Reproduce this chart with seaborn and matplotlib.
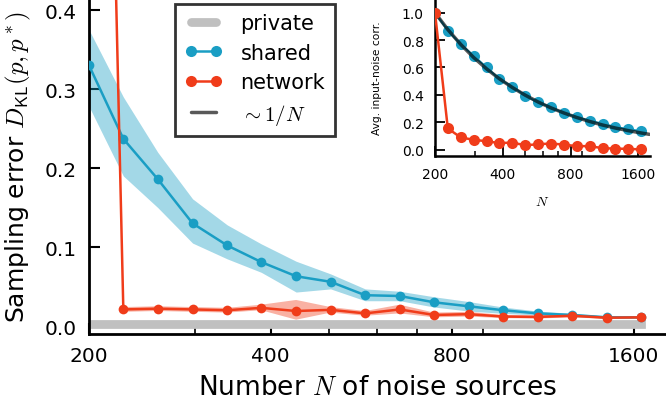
import numpy as np
import pandas as pd
import matplotlib
matplotlib.use("Agg")
import matplotlib.pyplot as plt
import seaborn as sns
from matplotlib.lines import Line2D
from matplotlib.ticker import FixedLocator, NullFormatter

# ---------------- data ----------------
N = [200, 228, 260, 297, 339, 386, 441, 503, 574, 655, 747, 852, 972, 1109, 1265, 1443, 1646]

private = [0.0025, 0.0025, 0.0025, 0.0025, 0.0025, 0.0025, 0.0025, 0.0025, 0.0025,
           0.0025, 0.0025, 0.0025, 0.0025, 0.0025, 0.0025, 0.0025, 0.0025]

shared_mean = [0.330, 0.237, 0.186, 0.130, 0.102, 0.081, 0.063, 0.056, 0.039,
               0.038, 0.030, 0.025, 0.020, 0.016, 0.014, 0.011, 0.011]
shared_lo = [0.278, 0.190, 0.150, 0.105, 0.085, 0.068, 0.043, 0.047, 0.032,
             0.032, 0.024, 0.019, 0.016, 0.014, 0.012, 0.010, 0.010]
shared_hi = [0.375, 0.290, 0.220, 0.161, 0.128, 0.104, 0.082, 0.066, 0.047,
             0.044, 0.037, 0.031, 0.024, 0.019, 0.016, 0.013, 0.012]

network_mean = [1.90, 0.021, 0.022, 0.021, 0.020, 0.023, 0.019, 0.0205, 0.016,
                0.021, 0.014, 0.015, 0.012, 0.0115, 0.013, 0.0105, 0.011]
network_lo = [1.80, 0.018, 0.019, 0.018, 0.017, 0.020, 0.008, 0.017, 0.013,
              0.016, 0.011, 0.012, 0.010, 0.0095, 0.011, 0.009, 0.0095]
network_hi = [2.00, 0.024, 0.025, 0.024, 0.023, 0.027, 0.033, 0.024, 0.019,
              0.027, 0.017, 0.018, 0.014, 0.0135, 0.015, 0.012, 0.0125]

# inset: average input-noise correlation
inset_shared = [1.0, 0.87, 0.77, 0.685, 0.60, 0.515, 0.46, 0.395, 0.345,
                0.31, 0.265, 0.24, 0.21, 0.19, 0.165, 0.15, 0.135]
inset_network = [1.0, 0.155, 0.09, 0.072, 0.062, 0.048, 0.052, 0.032, 0.04,
                 0.045, 0.037, 0.026, 0.026, 0.011, 0.008, 0.006, 0.002]
curve_N = [200, 228, 260, 297, 339, 386, 441, 503, 574, 655, 747, 852, 972,
           1109, 1265, 1443, 1646, 1790]
curve_vals = [1.0, 0.877, 0.769, 0.673, 0.590, 0.518, 0.454, 0.398, 0.348, 0.305,
              0.268, 0.235, 0.206, 0.180, 0.158, 0.139, 0.122, 0.112]

major_ticks = [200, 400, 800, 1600]
minor_ticks = [300, 500, 600, 700, 900]
yticks_main = [0.0, 0.1, 0.2, 0.3, 0.4]
yticks_inset = [0.0, 0.2, 0.4, 0.6, 0.8, 1.0]

# ---------------- style ----------------
sns.set_style("ticks")
plt.rcParams["font.family"] = ["DejaVu Sans"]
plt.rcParams["mathtext.fontset"] = "cm"
for k in ["text.color", "axes.labelcolor", "xtick.color", "ytick.color", "axes.edgecolor"]:
    plt.rcParams[k] = "black"

BLUE = "#1a9ec4"
RED = "#f03c1a"
GRAY = "#c0c0c0"

fig = plt.figure(figsize=(6.66, 4.02), dpi=100)
W, H = 666, 402
ax = fig.add_axes([89 / W, 67 / H, 577 / W, 335 / H])

df = pd.DataFrame({"N": N, "private": private, "shared": shared_mean,
                   "network": network_mean})

sns.lineplot(data=df, x="N", y="private", ax=ax, color=GRAY, linewidth=6.3,
             solid_capstyle="projecting", zorder=1)
ax.fill_between(N, shared_lo, shared_hi, color=BLUE, alpha=0.4, linewidth=0, zorder=2)
ax.fill_between(N, network_lo, network_hi, color=RED, alpha=0.4, linewidth=0, zorder=2)
sns.lineplot(data=df, x="N", y="shared", ax=ax, color=BLUE, linewidth=1.8,
             marker="o", markersize=7, markeredgewidth=0, zorder=3)
sns.lineplot(data=df, x="N", y="network", ax=ax, color=RED, linewidth=1.8,
             marker="o", markersize=7, markeredgewidth=0, zorder=4)

ax.set_xscale("log", base=2)
ax.set_xlim(200, 1810)
ax.set_ylim(-0.0101, 0.414)
ax.xaxis.set_major_locator(FixedLocator(major_ticks))
ax.set_xticklabels([str(t) for t in major_ticks])
ax.xaxis.set_minor_locator(FixedLocator(minor_ticks))
ax.xaxis.set_minor_formatter(NullFormatter())
ax.set_yticks(yticks_main)
ax.set_yticklabels([f"{t:.1f}" for t in yticks_main])
ax.tick_params(axis="both", which="major", direction="in", length=8, width=1.5,
               labelsize=14.5, pad=9, color="black", labelcolor="black")
ax.tick_params(axis="x", which="minor", direction="in", length=4, width=1.2, color="black")
for s in ["top", "right"]:
    ax.spines[s].set_visible(False)
for s in ["left", "bottom"]:
    ax.spines[s].set_linewidth(2)
    ax.spines[s].set_color("black")
ax.set_xlabel(r"Number $N$ of noise sources", fontsize=19, labelpad=6, color="black")
ax.set_ylabel(r"Sampling error $D_{\mathsf{KL}}(p,p^*)$", fontsize=18, labelpad=8,
              color="black")

handles = [
    Line2D([], [], color=GRAY, linewidth=6.3),
    Line2D([], [], color=BLUE, linewidth=1.8, marker="o", markersize=8, markeredgewidth=0),
    Line2D([], [], color=RED, linewidth=1.8, marker="o", markersize=8, markeredgewidth=0),
    Line2D([], [], color="black", alpha=0.65, linewidth=2.5),
]
labels = ["private", "shared", "network", r"$\sim 1/N$"]
leg = ax.legend(handles, labels, loc="upper left", bbox_to_anchor=(0.149, 0.985),
                borderaxespad=0, fontsize=15, numpoints=2, handlelength=1.8,
                handletextpad=0.9, labelspacing=0.45, frameon=True, fancybox=False,
                borderpad=0.45, labelcolor="black")
leg.get_frame().set_edgecolor("black")
leg.get_frame().set_linewidth(2)

# ---------------- inset ----------------
ax2 = fig.add_axes([435 / W, (H - 157) / H, 215 / W, 157 / H])
dfi = pd.DataFrame({"N": N, "shared": inset_shared, "network": inset_network})
dfc = pd.DataFrame({"N": curve_N, "curve": curve_vals})
sns.lineplot(data=dfi, x="N", y="shared", ax=ax2, color=BLUE, linewidth=1.5,
             marker="o", markersize=8, markeredgewidth=0, zorder=2)
sns.lineplot(data=dfc, x="N", y="curve", ax=ax2, color="black", alpha=0.65,
             linewidth=2.5, zorder=3)
sns.lineplot(data=dfi, x="N", y="network", ax=ax2, color=RED, linewidth=1.8,
             marker="o", markersize=8, markeredgewidth=0, zorder=4)
ax2.set_xscale("log", base=2)
ax2.set_xlim(200, 1800)
ax2.set_ylim(-0.046, 1.1)
ax2.xaxis.set_major_locator(FixedLocator(major_ticks))
ax2.set_xticklabels([str(t) for t in major_ticks])
ax2.xaxis.set_minor_locator(FixedLocator(minor_ticks))
ax2.xaxis.set_minor_formatter(NullFormatter())
ax2.set_yticks(yticks_inset)
ax2.set_yticklabels([f"{t:.1f}" for t in yticks_inset])
ax2.tick_params(axis="both", which="major", direction="in", length=7, width=1.3,
                labelsize=10, pad=8, color="black", labelcolor="black")
ax2.tick_params(axis="x", which="minor", direction="in", length=3.5, width=1.1,
                color="black")
for s in ["top", "right"]:
    ax2.spines[s].set_visible(False)
for s in ["left", "bottom"]:
    ax2.spines[s].set_linewidth(1.8)
    ax2.spines[s].set_color("black")
ax2.set_xlabel(r"$N$", fontsize=10, labelpad=9, color="black")
ax2.set_ylabel("Avg. input-noise corr.", fontsize=7.7, labelpad=14, color="black")
ax2.patch.set_alpha(0)

fig.savefig("out.png", dpi=100)
